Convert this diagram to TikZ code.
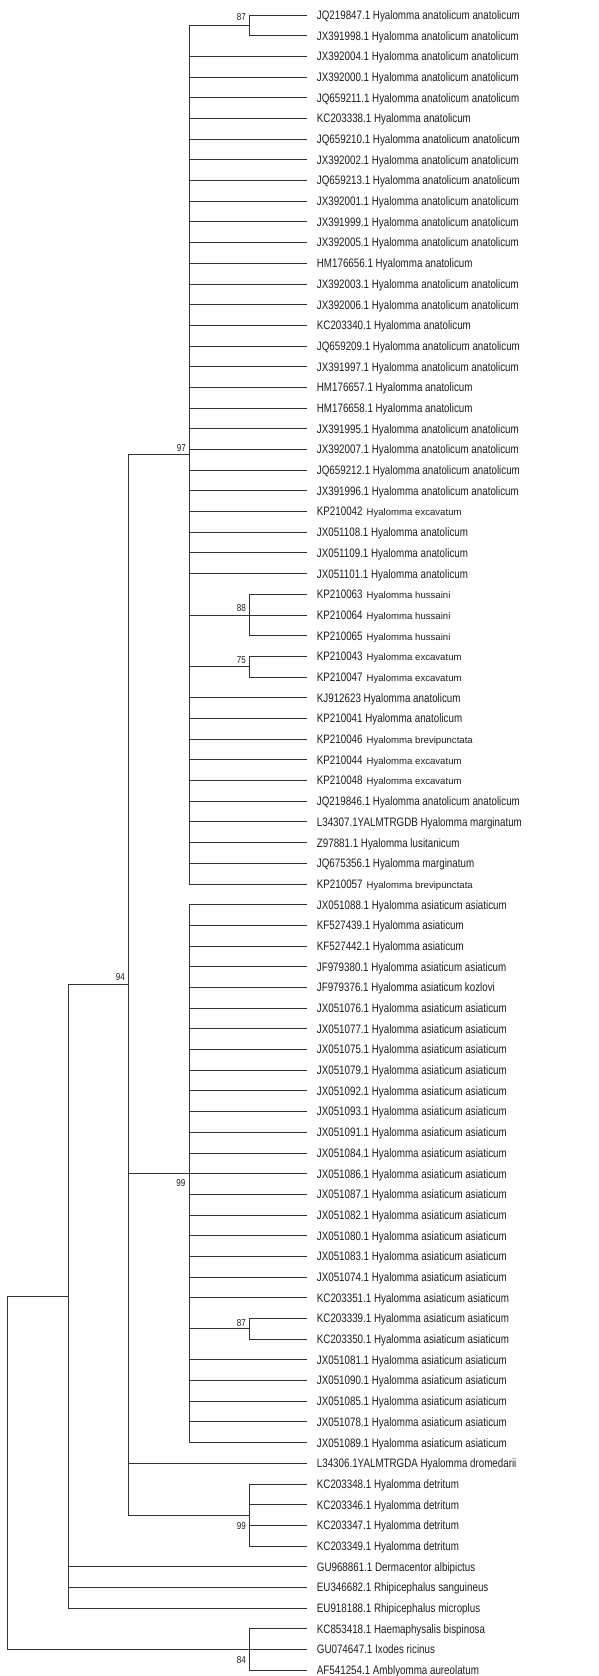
\documentclass[tikz,border=0pt]{standalone}
\usepackage{fontspec}
\setmainfont{Liberation Sans}[FakeStretch=0.8]
\newfontfamily\spfont{Liberation Sans}
\newcommand\spx[1]{\hspace{4pt}{\spfont\fontsize{9.6}{11}\selectfont #1}}
\tikzset{
  leaf/.style={anchor=west, inner sep=0pt, text height=8.8pt, text depth=0pt,
    font=\fontsize{12.24}{14}\selectfont, text=black!88},
  boot/.style={anchor=east, inner sep=0pt, font=\fontsize{10.1}{12}\selectfont, text=black!88},
  edge/.style={draw=black!80, line width=0.9pt}
}
\begin{document}
\begin{tikzpicture}[x=1pt,y=-1pt]
\fill[white] (0,0) rectangle (598,1676);
\foreach \i/\t in {
1/{JQ219847.1 Hyalomma anatolicum anatolicum},
2/{JX391998.1 Hyalomma anatolicum anatolicum},
3/{JX392004.1 Hyalomma anatolicum anatolicum},
4/{JX392000.1 Hyalomma anatolicum anatolicum},
5/{JQ659211.1 Hyalomma anatolicum anatolicum},
6/{KC203338.1 Hyalomma anatolicum},
7/{JQ659210.1 Hyalomma anatolicum anatolicum},
8/{JX392002.1 Hyalomma anatolicum anatolicum},
9/{JQ659213.1 Hyalomma anatolicum anatolicum},
10/{JX392001.1 Hyalomma anatolicum anatolicum},
11/{JX391999.1 Hyalomma anatolicum anatolicum},
12/{JX392005.1 Hyalomma anatolicum anatolicum},
13/{HM176656.1 Hyalomma anatolicum},
14/{JX392003.1 Hyalomma anatolicum anatolicum},
15/{JX392006.1 Hyalomma anatolicum anatolicum},
16/{KC203340.1 Hyalomma anatolicum},
17/{JQ659209.1 Hyalomma anatolicum anatolicum},
18/{JX391997.1 Hyalomma anatolicum anatolicum},
19/{HM176657.1 Hyalomma anatolicum},
20/{HM176658.1 Hyalomma anatolicum},
21/{JX391995.1 Hyalomma anatolicum anatolicum},
22/{JX392007.1 Hyalomma anatolicum anatolicum},
23/{JQ659212.1 Hyalomma anatolicum anatolicum},
24/{JX391996.1 Hyalomma anatolicum anatolicum},
25/{KP210042\spx{Hyalomma excavatum}},
26/{JX051108.1 Hyalomma anatolicum},
27/{JX051109.1 Hyalomma anatolicum},
28/{JX051101.1 Hyalomma anatolicum},
29/{KP210063\spx{Hyalomma hussaini}},
30/{KP210064\spx{Hyalomma hussaini}},
31/{KP210065\spx{Hyalomma hussaini}},
32/{KP210043\spx{Hyalomma excavatum}},
33/{KP210047\spx{Hyalomma excavatum}},
34/{KJ912623 Hyalomma anatolicum},
35/{KP210041 Hyalomma anatolicum},
36/{KP210046\spx{Hyalomma brevipunctata}},
37/{KP210044\spx{Hyalomma excavatum}},
38/{KP210048\spx{Hyalomma excavatum}},
39/{JQ219846.1 Hyalomma anatolicum anatolicum},
40/{L34307.1YALMTRGDB Hyalomma marginatum},
41/{Z97881.1 Hyalomma lusitanicum},
42/{JQ675356.1 Hyalomma marginatum},
43/{KP210057\spx{Hyalomma brevipunctata}},
44/{JX051088.1 Hyalomma asiaticum asiaticum},
45/{KF527439.1 Hyalomma asiaticum},
46/{KF527442.1 Hyalomma asiaticum},
47/{JF979380.1 Hyalomma asiaticum asiaticum},
48/{JF979376.1 Hyalomma asiaticum kozlovi},
49/{JX051076.1 Hyalomma asiaticum asiaticum},
50/{JX051077.1 Hyalomma asiaticum asiaticum},
51/{JX051075.1 Hyalomma asiaticum asiaticum},
52/{JX051079.1 Hyalomma asiaticum asiaticum},
53/{JX051092.1 Hyalomma asiaticum asiaticum},
54/{JX051093.1 Hyalomma asiaticum asiaticum},
55/{JX051091.1 Hyalomma asiaticum asiaticum},
56/{JX051084.1 Hyalomma asiaticum asiaticum},
57/{JX051086.1 Hyalomma asiaticum asiaticum},
58/{JX051087.1 Hyalomma asiaticum asiaticum},
59/{JX051082.1 Hyalomma asiaticum asiaticum},
60/{JX051080.1 Hyalomma asiaticum asiaticum},
61/{JX051083.1 Hyalomma asiaticum asiaticum},
62/{JX051074.1 Hyalomma asiaticum asiaticum},
63/{KC203351.1 Hyalomma asiaticum asiaticum},
64/{KC203339.1 Hyalomma asiaticum asiaticum},
65/{KC203350.1 Hyalomma asiaticum asiaticum},
66/{JX051081.1 Hyalomma asiaticum asiaticum},
67/{JX051090.1 Hyalomma asiaticum asiaticum},
68/{JX051085.1 Hyalomma asiaticum asiaticum},
69/{JX051078.1 Hyalomma asiaticum asiaticum},
70/{JX051089.1 Hyalomma asiaticum asiaticum},
71/{L34306.1YALMTRGDA Hyalomma dromedarii},
72/{KC203348.1 Hyalomma detritum},
73/{KC203346.1 Hyalomma detritum},
74/{KC203347.1 Hyalomma detritum},
75/{KC203349.1 Hyalomma detritum},
76/{GU968861.1 Dermacentor albipictus},
77/{EU346682.1 Rhipicephalus sanguineus},
78/{EU918188.1 Rhipicephalus microplus},
79/{KC853418.1 Haemaphysalis bispinosa},
80/{GU074647.1 Ixodes ricinus},
81/{AF541254.1 Amblyomma aureolatum}} {
  \coordinate (L\i) at (306.7, {15+(\i-1)*20.69});
  \node[leaf] (T\i) at (316.7, {15+(\i-1)*20.69}) {\t};
}
% internal nodes
\coordinate (n87a) at (249.3, {15+0.5*20.69});
\coordinate (n88)  at (249.3, {15+29*20.69});
\coordinate (n75)  at (249.3, {15+31.5*20.69});
\coordinate (n87b) at (249.3, {15+63.5*20.69});
\coordinate (nE)   at (249.3, {15+72.5*20.69});
\coordinate (nO)   at (249.3, {15+79*20.69});
\coordinate (nC)   at (189,   {15+21.25*20.69});
\coordinate (nD)   at (189,   {15+56*20.69});
\coordinate (nB)   at (128.3, {15+46.875*20.69});
\coordinate (nA)   at (68.3,  {15+61.9375*20.69});
\coordinate (nR)   at (7.5,   {15+70.46875*20.69});
% edges
\foreach \c in {L1,L2} \draw[edge] (n87a) |- (\c);
\foreach \c in {n87a,L3,L4,L5,L6,L7,L8,L9,L10,L11,L12,L13,L14,L15,L16,L17,L18,L19,L20,L21,L22,L23,L24,L25,L26,L27,L28,n88,n75,L34,L35,L36,L37,L38,L39,L40,L41,L42,L43} \draw[edge] (nC) |- (\c);
\foreach \c in {L29,L30,L31} \draw[edge] (n88) |- (\c);
\foreach \c in {L32,L33} \draw[edge] (n75) |- (\c);
\foreach \c in {L44,L45,L46,L47,L48,L49,L50,L51,L52,L53,L54,L55,L56,L57,L58,L59,L60,L61,L62,L63,n87b,L66,L67,L68,L69,L70} \draw[edge] (nD) |- (\c);
\foreach \c in {L64,L65} \draw[edge] (n87b) |- (\c);
\foreach \c in {L72,L73,L74,L75} \draw[edge] (nE) |- (\c);
\foreach \c in {nC,nD,L71,nE} \draw[edge] (nB) |- (\c);
\foreach \c in {nB,L76,L77,L78} \draw[edge] (nA) |- (\c);
\foreach \c in {L79,L80,L81} \draw[edge] (nO) |- (\c);
\foreach \c in {nA,nO} \draw[edge] (nR) |- (\c);
% bootstrap values
\node[boot] (b87a) at (246, 17.3) {87};
\node[boot] (b88)  at (246, 608) {88};
\node[boot] (b75)  at (246, 660) {75};
\node[boot] (b97)  at (186, 448) {97};
\node[boot] (b94)  at (125, 977) {94};
\node[boot] (b99a) at (185.5, 1183) {99};
\node[boot] (b87b) at (246, 1323) {87};
\node[boot] (b99b) at (246, 1526) {99};
\node[boot] (b84)  at (246, 1660) {84};
\end{tikzpicture}
\end{document}
